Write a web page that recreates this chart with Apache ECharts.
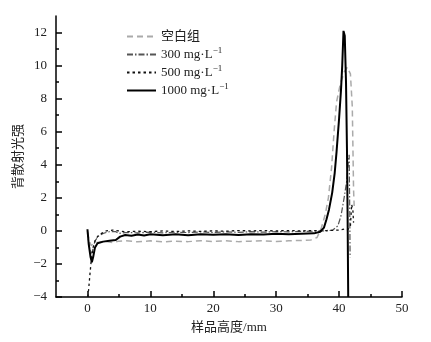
<!DOCTYPE html>
<html>
<head>
<meta charset="utf-8">
<script src="https://cdn.jsdelivr.net/npm/echarts@6/dist/echarts.min.js"></script>
<style>
  html, body { margin: 0; padding: 0; background: #fff; }
  #main { width: 431px; height: 342px; }
</style>
</head>
<body>
<div id="main"></div>
<script>
  // legend names
  var seriesNames = ['空白组', '300 mg·L⁻¹', '500 mg·L⁻¹', '1000 mg·L⁻¹'];

  // tick labels
  var xMajorTicks = [0, 10, 20, 30, 40, 50];
  var xMinorTicks = [5, 15, 25, 35, 45];
  var yMajorTicks = [-4, -2, 0, 2, 4, 6, 8, 10, 12];
  var yMinorTicks = [-3, -1, 1, 3, 5, 7, 9, 11];

  // [height mm, backscattering %]
  var blank = [
    [0, -0.1], [0.3, -0.6], [0.6, -0.9], [1, -0.75], [1.5, -0.7], [2, -0.68], [3, -0.65],
    [4, -0.7], [5, -0.62], [6, -0.6], [8, -0.66], [10, -0.6], [12, -0.66], [14, -0.62],
    [16, -0.65], [18, -0.6], [20, -0.64], [22, -0.6], [24, -0.65], [26, -0.62], [28, -0.6],
    [30, -0.64], [32, -0.6], [34, -0.58], [35.5, -0.55], [36.5, -0.4], [37.2, 0.2],
    [37.8, 1.0], [38.3, 2.0], [38.8, 3.8], [39.2, 6.0], [39.6, 7.8], [40.2, 8.9],
    [40.8, 9.6], [41.3, 9.9], [41.8, 9.5], [42.1, 7.5], [42.2, 5.0], [42.3, 2.5], [42.4, 1.5]
  ];
  var c300 = [
    [0, 0], [0.2, -0.7], [0.5, -1.4], [0.8, -1.2], [1.2, -0.6], [1.8, -0.3], [2.5, -0.15],
    [3.5, -0.05], [4.5, -0.05], [5, -0.15], [6, -0.1], [8, -0.12], [10, -0.08], [12, -0.12],
    [14, -0.08], [16, -0.1], [18, -0.06], [20, -0.1], [22, -0.06], [24, -0.09], [26, -0.05],
    [28, -0.08], [30, -0.04], [32, -0.06], [34, -0.03], [36, -0.02], [38, 0], [39, 0.05],
    [39.8, 0.3], [40.3, 0.9], [40.8, 2.0], [41.2, 3.0], [41.5, 4.3], [41.6, 4.6],
    [41.7, 1.0], [41.75, -1.6]
  ];
  var c500 = [
    [0.05, -4], [0.2, -3.5], [0.4, -2.6], [0.6, -1.8], [0.9, -1.0], [1.3, -0.5], [1.8, -0.25],
    [2.5, -0.1], [3, 0], [4, 0.05], [5, 0], [6, -0.05], [8, -0.02], [10, -0.05], [12, 0],
    [14, -0.04], [16, 0], [18, -0.03], [20, 0], [22, -0.02], [24, 0.02], [26, 0], [28, 0.02],
    [30, 0], [32, 0.02], [34, 0], [36, 0.02], [38, 0.02], [40, 0.05], [40.8, 0.1],
    [41.3, 0.05], [41.8, 0.3], [42, 1.6], [42.2, 1.2], [42.3, 0.5]
  ];
  var c1000 = [
    [0, 0.1], [0.2, -0.8], [0.5, -1.6], [0.7, -1.9], [0.9, -1.6], [1.2, -1.0], [1.6, -0.75],
    [2.5, -0.65], [3.5, -0.6], [4.5, -0.55], [5.2, -0.35], [6, -0.25], [7, -0.3], [8, -0.22],
    [9, -0.28], [10, -0.2], [12, -0.26], [14, -0.2], [16, -0.26], [18, -0.2], [20, -0.24],
    [22, -0.2], [24, -0.25], [26, -0.2], [28, -0.22], [30, -0.18], [32, -0.2], [34, -0.17],
    [36, -0.15], [37, -0.05], [37.6, 0.2], [38, 0.7], [38.4, 1.3], [38.9, 2.3], [39.3, 3.5],
    [39.6, 4.8], [40, 6.8], [40.3, 8.5], [40.5, 10], [40.7, 12.1], [40.9, 11.8], [41.1, 9],
    [41.25, 5], [41.35, 1], [41.45, -4]
  ];

  var serif = '"Liberation Serif", "Noto Sans CJK SC", serif';
  var textColor = '#222';

  var myChart = echarts.init(document.getElementById('main'));
  myChart.setOption({
    animation: false,
    textStyle: { fontFamily: serif, color: textColor },
    grid: { left: 56, right: 29, top: 16, bottom: 45 },
    legend: {
      orient: 'vertical',
      left: 126,
      top: 30,
      padding: 0,
      itemWidth: 29,
      itemHeight: 14,
      itemGap: 3.5,
      itemStyle: { opacity: 0 },
      formatter: function (name) { return name.replace('⁻¹', '{sup|−1}'); },
      textStyle: {
        fontFamily: serif, fontSize: 13, color: textColor,
        rich: { sup: { fontFamily: serif, fontSize: 9, color: textColor, padding: [0, 0, 7, 0] } }
      },
      data: seriesNames
    },
    xAxis: [
      {
        type: 'value',
        min: -5,
        max: 50,
        name: '样品高度/mm',
        nameLocation: 'middle',
        nameGap: 24,
        nameMoveOverlap: false,
        nameTextStyle: { fontSize: 13, color: textColor, fontFamily: serif },
        splitLine: { show: false },
        axisLine: { onZero: false, lineStyle: { color: '#000', width: 1.5 } },
        axisTick: { inside: true, length: 6, customValues: xMajorTicks, lineStyle: { color: '#000', width: 1.5 } },
        axisLabel: { customValues: xMajorTicks, margin: 5, fontSize: 13, color: textColor }
      },
      {
        type: 'value',
        min: -5,
        max: 50,
        position: 'bottom',
        axisLine: { show: false, onZero: false },
        splitLine: { show: false },
        axisLabel: { show: false },
        axisTick: { inside: true, length: 3, customValues: xMinorTicks, lineStyle: { color: '#000', width: 1.5 } }
      }
    ],
    yAxis: [
      {
        type: 'value',
        min: -4,
        max: 13,
        name: '背散射光强',
        nameLocation: 'middle',
        nameRotate: 90,
        nameGap: 31,
        nameMoveOverlap: false,
        nameTextStyle: { fontSize: 13, color: textColor, fontFamily: serif },
        splitLine: { show: false },
        axisLine: { onZero: false, lineStyle: { color: '#000', width: 1.5 } },
        axisTick: { inside: true, length: 6, customValues: yMajorTicks, lineStyle: { color: '#000', width: 1.5 } },
        axisLabel: {
          customValues: yMajorTicks,
          margin: 9, fontSize: 13, color: textColor,
          formatter: function (v) { return v < 0 ? '−' + (-v) : String(v); }
        }
      },
      {
        type: 'value',
        min: -4,
        max: 13,
        position: 'left',
        axisLine: { show: false, onZero: false },
        splitLine: { show: false },
        axisLabel: { show: false },
        axisTick: { inside: true, length: 3, customValues: yMinorTicks, lineStyle: { color: '#000', width: 1.5 } }
      }
    ],
    series: [
      {
        name: seriesNames[0],
        type: 'line',
        symbol: 'none',
        data: blank,
        lineStyle: { color: '#aaaaaa', width: 1.5, type: [6, 4] },
        itemStyle: { color: '#aaaaaa' }
      },
      {
        name: seriesNames[1],
        type: 'line',
        symbol: 'none',
        data: c300,
        lineStyle: { color: '#555555', width: 1.2, type: [6, 2, 1.5, 2] },
        itemStyle: { color: '#555555' }
      },
      {
        name: seriesNames[2],
        type: 'line',
        symbol: 'none',
        data: c500,
        lineStyle: { color: '#111111', width: 1.3, type: [2.5, 3] },
        itemStyle: { color: '#111111' }
      },
      {
        name: seriesNames[3],
        type: 'line',
        symbol: 'none',
        data: c1000,
        lineStyle: { color: '#000000', width: 2 },
        itemStyle: { color: '#000000' }
      }
    ]
  });
</script>
</body>
</html>
